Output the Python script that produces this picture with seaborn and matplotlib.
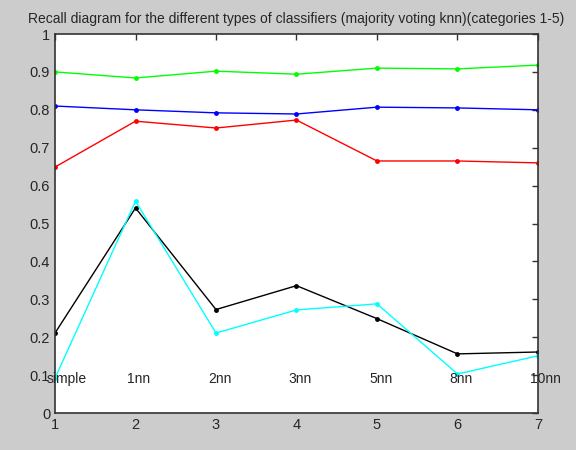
import matplotlib
matplotlib.use("Agg")
import matplotlib.pyplot as plt
import pandas as pd
import seaborn as sns

positions = [1, 2, 3, 4, 5, 6, 7]
classifier_labels = ["simple", "1nn", "2nn", "3nn", "5nn", "8nn", "10nn"]

recall_green = [0.900, 0.884, 0.902, 0.894, 0.910, 0.908, 0.918]
recall_blue = [0.810, 0.800, 0.792, 0.789, 0.807, 0.805, 0.800]
recall_red = [0.649, 0.770, 0.752, 0.773, 0.665, 0.665, 0.660]
recall_black = [0.211, 0.541, 0.273, 0.336, 0.249, 0.156, 0.161]
recall_cyan = [0.092, 0.559, 0.211, 0.272, 0.288, 0.103, 0.151]

series = {
    "green": recall_green,
    "blue": recall_blue,
    "red": recall_red,
    "black": recall_black,
    "cyan": recall_cyan,
}
colors = {"green": "#00ff00", "blue": "#0000ff", "red": "#ff0000",
          "black": "#000000", "cyan": "#00ffff"}

frames = [pd.DataFrame({"x": positions, "recall": vals, "series": name})
          for name, vals in series.items()]
df = pd.concat(frames, ignore_index=True)

sns.set_style("white")
plt.rcParams["font.family"] = ["Liberation Sans", "DejaVu Sans"]

fig = plt.figure(figsize=(5.76, 4.5), dpi=100, facecolor="#cccccc")
ax = fig.add_axes([0.0955, 0.0822, 0.8385, 0.8422])
ax.set_facecolor("white")

sns.lineplot(data=df, x="x", y="recall", hue="series", palette=colors,
             marker="o", markersize=3.5, markeredgewidth=0, linewidth=1,
             legend=False, ax=ax)

for xpos, label in zip(positions, classifier_labels):
    ax.text(xpos - 0.1, 0.09, label, ha="left", va="center", fontsize=10)

ax.set_xlim(1, 7)
ax.set_ylim(0, 1)
ax.set_xticks(positions)
ax.set_xticklabels([str(p) for p in positions])
yticks = [i / 10 for i in range(11)]
ax.set_yticks(yticks)
ax.set_yticklabels(["0"] + [f"{v:.1f}" for v in yticks[1:-1]] + ["1"])
ax.tick_params(direction="in", length=4, top=True, right=True, labelsize=10.5,
               color="#333333", width=1)
ax.set_xlabel("")
ax.set_ylabel("")
for spine in ax.spines.values():
    spine.set_color("#333333")
    spine.set_linewidth(1.2)

ax.set_title("Recall diagram for the different types of classifiers (majority voting knn)(categories 1-5)",
             fontsize=10, pad=8)

fig.savefig("out.png", dpi=100, facecolor=fig.get_facecolor())
